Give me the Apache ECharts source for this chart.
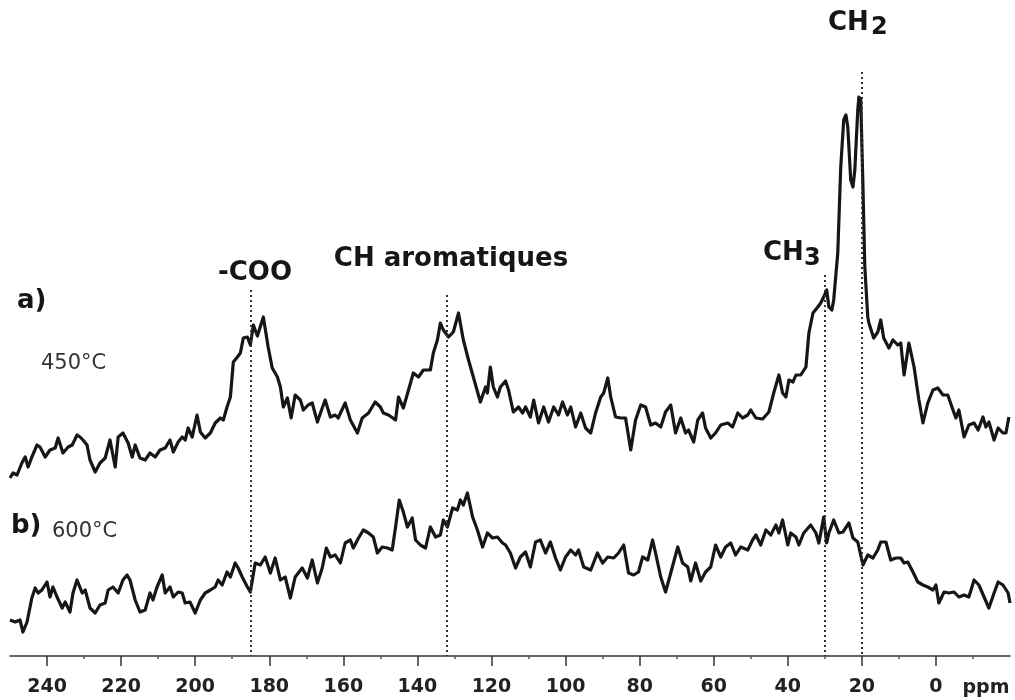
<!DOCTYPE html>
<html>
<head>
<meta charset="utf-8">
<script src="https://cdn.jsdelivr.net/npm/echarts@6/dist/echarts.min.js"></script>
<style>
  html, body { margin: 0; padding: 0; background: #fff; }
  #chart { width: 1015px; height: 700px; }
</style>
</head>
<body>
<div id="chart"></div>
<script>
// 13C CP-MAS NMR spectra: [chemical shift (ppm), intensity (a.u.)]
// a) sample treated at 450°C (stacked above b)
const spectrum450 = [
  [250.0,178],[249.2,183],[248.1,181],[246.8,193],[245.9,199],[245.1,189],[244.1,199],[242.7,211],[241.9,209],[240.5,199],
  [239.2,206],[237.8,208],[237.0,218],[235.7,203],[234.3,209],[233.2,211],[231.9,221],[231.1,219],[230.3,216],[229.2,211],
  [228.4,196],[227.0,184],[225.7,193],[224.3,198],[223.0,216],[221.6,189],[220.8,219],[219.5,223],[218.1,213],[217.0,199],
  [216.2,211],[214.9,198],[213.5,196],[212.2,203],[210.8,199],[209.5,206],[208.1,208],[206.8,216],[205.9,204],[204.6,214],
  [203.5,219],[202.7,216],[201.9,228],[200.8,219],[199.5,241],[198.6,224],[197.3,218],[195.9,223],[194.6,233],[193.2,238],
  [192.4,236],[191.4,249],[190.5,259],[189.7,294],[188.6,299],[187.8,303],[187.0,318],[185.9,319],[185.1,311],[184.3,331],
  [183.2,320],[181.6,339],[180.3,309],[179.2,288],[177.8,279],[177.0,269],[176.2,249],[175.1,258],[174.1,238],[173.0,261],
  [171.6,256],[170.8,246],[169.5,251],[168.4,253],[167.0,234],[165.7,248],[164.9,256],[163.5,239],[162.2,241],[161.4,238],
  [159.5,253],[158.1,236],[156.2,223],[154.9,238],[153.2,243],[151.4,254],[150.0,249],[149.2,243],[147.8,241],[145.9,236],
  [145.1,259],[143.8,248],[142.4,266],[141.1,283],[139.7,279],[138.4,286],[136.5,286],[135.7,303],[134.6,316],[133.8,333],
  [133.0,326],[131.6,319],[130.3,324],[128.9,343],[127.6,316],[126.2,296],[124.9,279],[123.0,254],[121.6,269],[121.1,263],
  [120.3,289],[119.5,269],[118.4,259],[117.6,269],[116.2,275],[115.4,266],[114.1,244],[112.7,249],[111.6,243],[110.8,249],
  [109.5,239],[108.6,256],[107.3,233],[105.9,249],[104.6,234],[103.2,249],[101.9,241],[100.8,254],[99.5,241],[98.6,249],
  [97.3,229],[95.9,243],[94.6,228],[93.2,223],[91.9,243],[90.5,259],[89.7,263],[88.6,278],[87.8,259],[86.5,239],
  [85.1,238],[83.8,238],[82.4,206],[81.1,236],[79.7,251],[78.4,249],[77.0,231],[75.7,233],[74.3,229],[73.0,244],
  [71.6,251],[70.3,223],[68.9,238],[67.6,223],[66.8,226],[65.4,214],[64.3,236],[63.0,243],[62.2,228],[60.8,218],
  [59.5,223],[58.1,231],[56.2,233],[54.9,229],[53.5,243],[52.2,238],[50.8,241],[50.0,246],[48.6,238],[46.8,237],
  [45.1,244],[43.8,263],[42.4,281],[41.4,263],[40.5,259],[39.7,276],[38.6,274],[37.8,281],[36.5,281],[35.1,289],
  [34.3,323],[33.2,343],[31.9,349],[31.1,353],[30.3,359],[29.5,366],[28.9,349],[28.1,346],[27.6,356],[26.5,403],
  [25.7,489],[24.9,536],[24.3,541],[23.8,529],[23.0,476],[22.4,469],[21.9,486],[21.1,546],[20.8,559],[20.3,556],
  [19.7,469],[19.2,389],[18.4,339],[18.1,333],[16.8,318],[15.7,324],[14.9,336],[14.1,318],[12.7,308],[11.6,316],
  [10.3,311],[9.5,313],[8.6,281],[7.3,313],[5.9,289],[4.6,256],[3.5,233],[2.2,253],[0.8,266],[-0.5,268],
  [-1.9,261],[-3.2,261],[-4.6,246],[-5.4,238],[-6.2,246],[-7.6,219],[-8.9,231],[-10.3,233],[-11.4,226],[-12.7,239],
  [-13.5,229],[-14.3,234],[-15.7,216],[-16.8,228],[-18.1,223],[-18.9,223],[-19.7,239]
];

// b) sample treated at 600°C
const spectrum600 = [
  [250.0,36],[248.6,34],[247.3,36],[246.5,24],[245.4,34],[244.1,58],[243.2,68],[242.4,63],[241.4,66],[240.0,74],
  [239.2,59],[238.4,69],[237.3,59],[235.9,48],[235.1,54],[233.8,44],[233.0,63],[231.9,76],[230.5,63],[229.7,66],
  [228.4,48],[227.0,43],[225.7,51],[224.3,53],[223.5,66],[222.2,69],[220.8,63],[219.5,76],[218.4,81],[217.6,76],
  [216.2,56],[214.9,44],[213.5,46],[212.2,63],[211.4,56],[210.3,69],[208.9,81],[208.1,63],[206.8,69],[205.9,59],
  [204.6,64],[203.5,63],[202.7,53],[201.4,54],[200.0,43],[198.6,56],[197.3,63],[195.9,66],[194.6,69],[193.8,76],
  [192.7,71],[191.4,84],[190.5,79],[189.2,93],[188.4,88],[187.3,79],[185.9,69],[185.1,64],[183.8,93],[182.4,91],
  [181.1,99],[179.7,83],[178.4,98],[177.0,76],[175.7,79],[174.3,58],[173.0,79],[171.1,88],[169.7,78],[168.4,96],
  [167.0,73],[165.7,88],[164.6,108],[163.5,99],[162.2,101],[160.8,93],[159.5,113],[158.1,116],[157.3,108],[155.9,118],
  [154.6,126],[153.2,123],[151.9,119],[150.8,103],[149.5,109],[148.1,108],[146.8,106],[145.9,129],[144.9,156],[143.8,144],
  [142.7,129],[141.4,138],[140.5,116],[139.2,111],[137.8,108],[136.5,129],[135.1,119],[133.8,121],[133.0,136],[131.9,129],
  [130.5,148],[129.2,146],[128.4,156],[127.6,151],[126.5,163],[125.1,139],[123.8,126],[122.4,109],[121.1,123],[119.7,118],
  [118.4,119],[117.0,113],[116.2,111],[114.9,103],[113.5,88],[112.2,99],[110.8,104],[109.5,89],[108.1,114],[106.8,116],
  [105.4,103],[104.1,114],[102.7,98],[101.4,86],[100.0,99],[98.6,106],[97.3,101],[96.5,106],[95.1,89],[93.2,86],
  [91.4,103],[90.0,93],[88.6,99],[87.0,98],[85.7,103],[84.3,111],[83.0,83],[81.6,81],[80.3,84],[79.2,99],
  [77.8,96],[76.5,116],[75.7,103],[74.3,79],[73.0,64],[71.6,83],[69.7,109],[68.4,93],[67.0,89],[66.2,75],
  [64.9,93],[63.5,75],[62.2,84],[60.8,89],[59.5,111],[58.1,99],[56.8,109],[55.4,113],[54.1,101],[52.7,109],
  [50.8,106],[49.5,116],[48.6,121],[47.3,111],[45.9,126],[44.6,121],[43.2,131],[42.4,123],[41.4,136],[40.0,111],
  [39.2,123],[37.8,119],[37.0,111],[35.7,123],[33.8,131],[32.4,123],[31.6,113],[30.3,139],[29.5,113],[28.9,123],
  [27.6,136],[26.2,123],[25.1,124],[23.5,133],[22.4,118],[21.1,114],[19.7,91],[18.4,101],[17.0,98],[15.7,106],
  [14.9,114],[13.5,114],[12.2,96],[10.8,98],[9.5,98],[8.6,93],[7.6,94],[6.2,84],[4.9,74],[3.5,71],
  [2.2,69],[0.8,66],[0.0,71],[-0.8,53],[-2.2,64],[-3.5,63],[-4.9,64],[-6.2,59],[-7.6,61],[-8.9,59],
  [-10.3,76],[-11.6,71],[-13.0,59],[-14.3,48],[-15.7,63],[-16.8,74],[-18.1,71],[-19.5,63],[-20.0,53]
];

// Assigned resonances (ppm) and the height where each guide line starts
const guidePpm = [185, 132, 30, 20];
const guideTop = [366, 361, 381, 584];

// Axis ticks
const majorTicks = [240, 220, 200, 180, 160, 140, 120, 100, 80, 60, 40, 20, 0];
const minorTicks = [230, 210, 190, 170, 150, 130, 110, 90, 70, 50, 30, 10, -10];

const FONT = '"DejaVu Sans", Verdana, sans-serif';
const INK = '#161616';

const chart = echarts.init(document.getElementById('chart'), null, { renderer: 'canvas' });

const guideLines = guidePpm.map((p, i) => [
  { coord: [p, guideTop[i]] },
  { coord: [p, 0] }
]);

function txt(text, x, y, font, align, fill) {
  return {
    type: 'text', x: x, y: y, silent: true,
    style: { text: text, font: font, fill: fill || INK, align: align || 'left', verticalAlign: 'middle' }
  };
}

const boldBig = 'bold 26px ' + FONT;

chart.setOption({
  animation: false,
  backgroundColor: '#fff',
  grid: { left: 10, right: 5, top: 56, bottom: 44 },
  xAxis: [
    {
      type: 'value', min: -20, max: 250, inverse: true, position: 'bottom',
      axisLine: { show: true, onZero: false, lineStyle: { color: '#333', width: 1.5 } },
      axisTick: { show: true, customValues: majorTicks, length: 10, inside: false, lineStyle: { color: '#333', width: 1.5 } },
      axisLabel: {
        show: true, customValues: majorTicks, margin: 22,
        color: '#222', fontSize: 19, fontWeight: 'bold', fontFamily: FONT
      },
      splitLine: { show: false }
    },
    {
      type: 'value', min: -20, max: 250, inverse: true, position: 'bottom',
      axisLine: { show: false, onZero: false },
      axisTick: { show: true, customValues: minorTicks, length: 3, lineStyle: { color: '#555', width: 1.5 } },
      axisLabel: { show: false },
      splitLine: { show: false }
    }
  ],
  yAxis: {
    type: 'value', min: 0, max: 600, show: false,
    splitLine: { show: false }
  },
  series: [
    {
      name: '450°C', type: 'line', xAxisIndex: 0, data: spectrum450,
      showSymbol: false, smooth: false,
      lineStyle: { color: INK, width: 3.2, join: 'round' },
      markLine: {
        silent: true, symbol: 'none', animation: false,
        label: { show: false },
        lineStyle: { color: '#333', width: 2, type: [2, 3] },
        data: guideLines
      },
      z: 3
    },
    {
      name: '600°C', type: 'line', xAxisIndex: 0, data: spectrum600,
      showSymbol: false, smooth: false,
      lineStyle: { color: INK, width: 3.2, join: 'round' },
      z: 3
    }
  ],
  graphic: [
    txt('CH', 828, 23, boldBig),
    txt('2', 871, 28, 'bold 24px ' + FONT),
    txt('CH', 763, 253, boldBig),
    txt('3', 804, 259, 'bold 24px ' + FONT),
    txt('CH aromatiques', 451, 259, boldBig, 'center'),
    txt('-COO', 255, 273, boldBig, 'center'),
    txt('a)', 17, 301, boldBig),
    txt('450°C', 41, 364, '21px ' + FONT, 'left', '#333'),
    txt('b)', 11, 526, boldBig),
    txt('600°C', 52, 532, '21px ' + FONT, 'left', '#333'),
    txt('ppm', 986, 688, 'bold 19px ' + FONT, 'center', '#222')
  ]
});
</script>
</body>
</html>
